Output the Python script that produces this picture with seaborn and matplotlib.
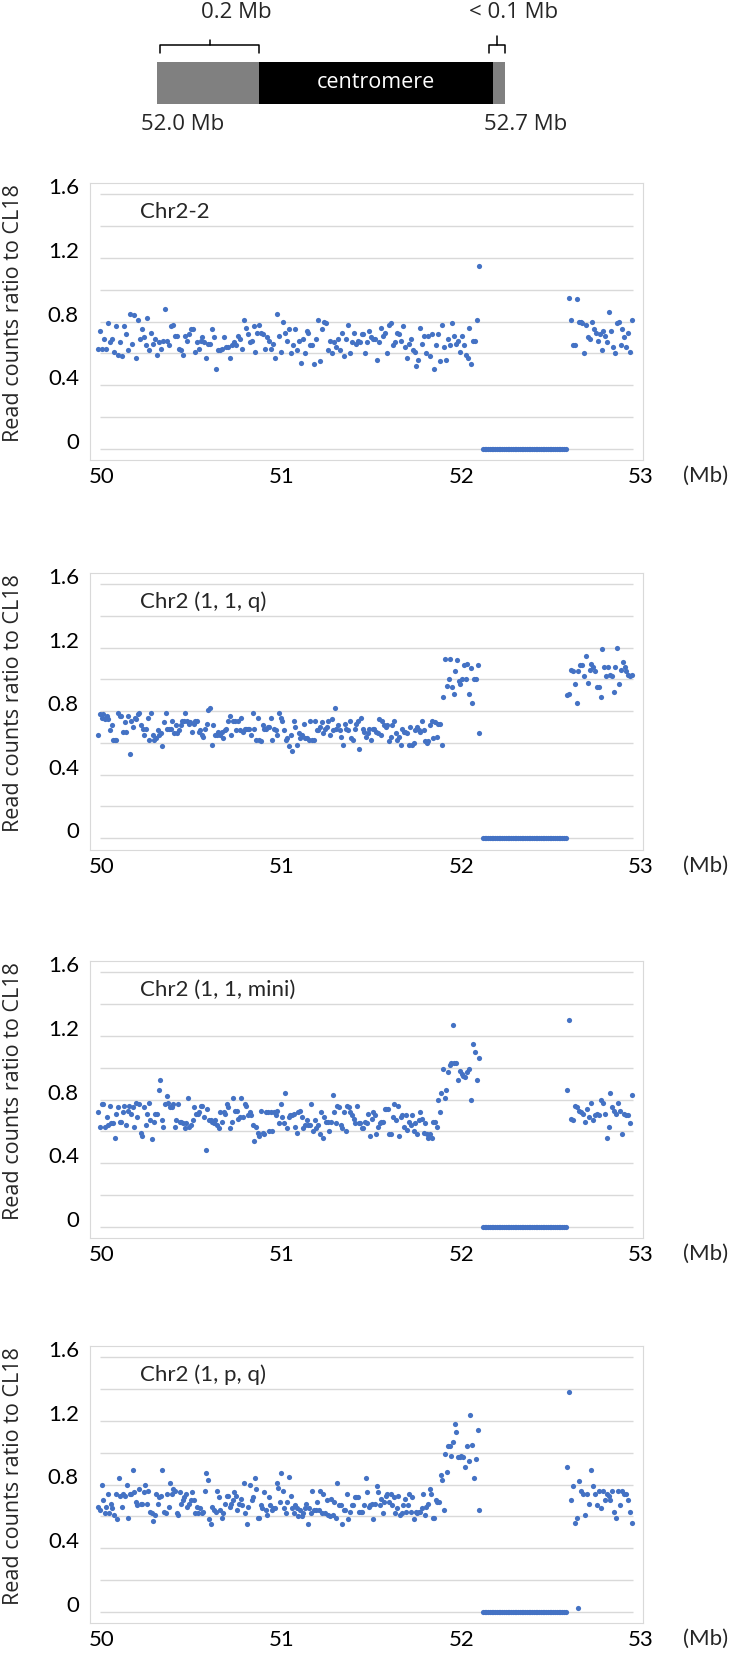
import numpy as np
import pandas as pd
import matplotlib.pyplot as plt
import seaborn as sns
from matplotlib.transforms import ScaledTranslation


# === DATA ===
panel_names = ['Chr2-2', 'Chr2 (1, 1, q)', 'Chr2 (1, 1, mini)', 'Chr2 (1, p, q)']

# Panel 1: Chr2-2
p1_arm = [0.63, 0.74, 0.63, 0.69, 0.63, 0.79, 0.67, 0.69, 0.61, 0.77, 0.59, 0.67, 0.58, 0.77, 0.72, 0.62,
          0.85, 0.66, 0.84, 0.57, 0.81, 0.69, 0.75, 0.70, 0.65, 0.82, 0.62, 0.73, 0.66, 0.69, 0.59, 0.67,
          0.63, 0.68, 0.88, 0.68, 0.65, 0.77, 0.78, 0.71, 0.71, 0.63, 0.62, 0.59, 0.71, 0.68, 0.72, 0.75,
          0.75, 0.61, 0.67, 0.63, 0.68, 0.70, 0.67, 0.57, 0.66, 0.66, 0.75, 0.70, 0.50, 0.62, 0.62, 0.63,
          0.70, 0.64, 0.64, 0.57, 0.65, 0.67, 0.65, 0.71, 0.69, 0.63, 0.81, 0.76, 0.72, 0.67, 0.68, 0.77,
          0.61, 0.73, 0.78, 0.73, 0.72, 0.63, 0.70, 0.68, 0.63, 0.66, 0.57, 0.85,
          0.71, 0.61, 0.80, 0.73, 0.68, 0.75, 0.60, 0.65, 0.75, 0.62, 0.68, 0.54, 0.69, 0.60, 0.74, 0.73,
          0.65, 0.65, 0.53, 0.69, 0.81, 0.55, 0.75, 0.80, 0.79, 0.62, 0.68, 0.60, 0.67, 0.64, 0.69, 0.62,
          0.73, 0.58, 0.69, 0.78, 0.60, 0.67, 0.73, 0.66, 0.68, 0.67, 0.72, 0.72, 0.60, 0.67, 0.74, 0.70,
          0.69, 0.69, 0.56, 0.67, 0.76, 0.71, 0.73, 0.60, 0.78, 0.79, 0.65, 0.67, 0.73, 0.72, 0.68, 0.77,
          0.64, 0.57, 0.66, 0.69, 0.62, 0.61, 0.52, 0.56, 0.76, 0.66, 0.71, 0.60, 0.71, 0.58, 0.72, 0.50,
          0.65, 0.72, 0.55, 0.78, 0.64, 0.56, 0.69, 0.65, 0.79, 0.71, 0.66, 0.68, 0.61, 0.71, 0.65, 0.59,
          0.57, 0.76, 0.53, 0.68, 0.68, 0.81, 1.15]
p1_q = [0.95, 0.81, 0.65, 0.65, 0.94, 0.80, 0.80, 0.79, 0.60, 0.78, 0.70, 0.69, 0.80, 0.75, 0.73, 0.68,
        0.72, 0.62, 0.74, 0.71, 0.67, 0.86, 0.74, 0.64, 0.60, 0.79, 0.80, 0.65, 0.75, 0.70, 0.64, 0.73,
        0.61, 0.81]

# Panel 2: Chr2 (1, 1, q)
p2_arm = [0.65, 0.78, 0.76, 0.78, 0.75, 0.77, 0.75, 0.68, 0.71, 0.62, 0.62, 0.62, 0.79, 0.77, 0.77, 0.67,
          0.73, 0.67, 0.77, 0.53, 0.74, 0.70, 0.76, 0.75, 0.78, 0.79, 0.71, 0.69, 0.65, 0.69, 0.76, 0.62,
          0.79, 0.65, 0.62, 0.63, 0.68, 0.65, 0.66, 0.58, 0.73, 0.79, 0.69, 0.69, 0.69, 0.74, 0.66, 0.71,
          0.66, 0.68, 0.71, 0.74, 0.74, 0.79, 0.74, 0.72, 0.73, 0.67, 0.72, 0.74, 0.74, 0.67, 0.68, 0.65,
          0.64, 0.69, 0.72, 0.81, 0.82, 0.59, 0.71, 0.65, 0.65, 0.67, 0.65, 0.67, 0.63, 0.68, 0.69, 0.74,
          0.77, 0.65, 0.74, 0.74, 0.68, 0.74, 0.68, 0.76, 0.67, 0.69, 0.69, 0.69, 0.69, 0.65, 0.79, 0.69,
          0.62, 0.76, 0.62, 0.61, 0.71, 0.69,
          0.69, 0.70, 0.70, 0.76, 0.62, 0.69, 0.68, 0.65, 0.79, 0.76, 0.74, 0.68, 0.62, 0.63, 0.58, 0.65,
          0.55, 0.74, 0.70, 0.59, 0.66, 0.63, 0.65, 0.72, 0.63, 0.63, 0.62, 0.74, 0.62, 0.62, 0.74, 0.68,
          0.68, 0.70, 0.73, 0.66, 0.69, 0.70, 0.74, 0.65, 0.75, 0.68, 0.82, 0.69, 0.71, 0.68, 0.64, 0.59,
          0.72, 0.69, 0.68, 0.74, 0.63, 0.62, 0.69, 0.72, 0.74, 0.56, 0.76, 0.69, 0.67, 0.64, 0.66, 0.69,
          0.62, 0.69, 0.69, 0.67, 0.66, 0.75, 0.65, 0.74, 0.71, 0.70, 0.71, 0.61, 0.64, 0.71, 0.74, 0.66,
          0.62, 0.64, 0.59, 0.69, 0.67, 0.67, 0.66, 0.59, 0.70, 0.59, 0.60, 0.68, 0.70, 0.68, 0.67, 0.74,
          0.68, 0.61, 0.60, 0.61, 0.71, 0.74, 0.63, 0.73, 0.64, 0.72, 0.72, 0.59]
p2_peri = [0.89, 1.13, 0.96, 1.00, 1.13, 0.95, 0.91, 1.05, 1.12, 0.99, 0.97, 1.00, 1.09, 1.00, 1.10, 0.91,
           1.07, 0.85, 1.00, 1.00, 1.09, 0.66]
p2_q = [0.90, 0.91, 1.06, 1.05, 0.97, 0.85, 1.05, 1.09, 1.09, 1.02, 1.15, 0.98, 1.06, 1.10, 1.08, 1.05,
        0.95, 0.95, 0.89, 1.19, 1.08, 1.02, 1.08, 1.03, 1.02, 0.92, 1.08, 1.20, 0.97, 1.06, 1.11, 1.08,
        1.05, 1.03, 1.02, 1.03]

# Panel 3: Chr2 (1, 1, mini)
p3_arm = [0.72, 0.63, 0.77, 0.77, 0.63, 0.69, 0.64, 0.76, 0.65, 0.65, 0.56, 0.71, 0.75, 0.66, 0.66, 0.72,
          0.76, 0.64, 0.73, 0.76, 0.71, 0.75, 0.63, 0.78, 0.69, 0.77, 0.59, 0.57, 0.75, 0.64, 0.71, 0.78,
          0.67, 0.55, 0.66, 0.71, 0.71, 0.86, 0.92, 0.67, 0.63, 0.77, 0.82, 0.78, 0.75, 0.75, 0.77, 0.63,
          0.67, 0.77, 0.66, 0.66, 0.65, 0.62, 0.65, 0.81, 0.63, 0.64, 0.67, 0.75, 0.71, 0.71, 0.72, 0.76,
          0.76, 0.69, 0.48, 0.74, 0.67, 0.67, 0.66, 0.65, 0.67, 0.64, 0.62, 0.72, 0.66, 0.72, 0.71, 0.77,
          0.75, 0.62, 0.66, 0.81, 0.73, 0.73, 0.68, 0.69, 0.81, 0.69, 0.77, 0.76, 0.70, 0.72, 0.70, 0.64,
          0.54, 0.63, 0.59, 0.57, 0.73,
          0.59, 0.58, 0.72, 0.72, 0.60, 0.72, 0.60, 0.72, 0.70, 0.73, 0.65, 0.77, 0.69, 0.65, 0.84, 0.62,
          0.69, 0.70, 0.70, 0.71, 0.63, 0.59, 0.72, 0.73, 0.69, 0.62, 0.64, 0.67, 0.64, 0.64, 0.77, 0.60,
          0.67, 0.62, 0.64, 0.58, 0.72, 0.56, 0.69, 0.66, 0.66, 0.60, 0.66, 0.83, 0.72, 0.65, 0.76, 0.75,
          0.64, 0.62, 0.72, 0.60, 0.76, 0.75, 0.72, 0.70, 0.68, 0.65, 0.76, 0.65, 0.65, 0.62, 0.62, 0.66,
          0.65, 0.71, 0.57, 0.68, 0.72, 0.70, 0.58, 0.63, 0.65, 0.66, 0.66, 0.74, 0.74, 0.74, 0.58, 0.58,
          0.69, 0.77, 0.67, 0.76, 0.57, 0.69, 0.70, 0.63, 0.70, 0.61, 0.66, 0.64, 0.70, 0.60, 0.65, 0.58,
          0.67, 0.72, 0.68, 0.59, 0.65, 0.58, 0.56, 0.58, 0.56, 0.66, 0.66, 0.63, 0.80, 0.72, 0.84, 0.99,
          0.81, 0.86, 0.97, 1.02, 1.03, 1.27, 1.03, 1.03, 0.92]
p3_peri = [0.98, 0.96, 0.95, 0.94, 0.97, 0.99, 0.80, 1.15, 1.10, 0.92, 1.06]
p3_q = [0.86, 1.30, 0.68, 0.67, 0.76, 0.75, 0.73, 0.72, 0.71, 0.66, 0.74, 0.69, 0.78, 0.67, 0.70, 0.71,
        0.70, 0.80, 0.78, 0.71, 0.56, 0.63, 0.84, 0.75, 0.73, 0.71, 0.78, 0.73, 0.58, 0.71, 0.70, 0.70,
        0.65, 0.83]

# Panel 4: Chr2 (1, p, q)
p4_arm = [0.66, 0.64, 0.80, 0.70, 0.62, 0.66, 0.74, 0.62, 0.68, 0.65, 0.61, 0.74, 0.58, 0.84, 0.73, 0.66,
          0.74, 0.73, 0.80, 0.59, 0.74, 0.74, 0.89, 0.75, 0.69, 0.67, 0.77, 0.68, 0.68, 0.75, 0.80, 0.68,
          0.76, 0.63, 0.62, 0.57, 0.61, 0.74, 0.68, 0.72, 0.73, 0.89, 0.63, 0.62, 0.74, 0.66, 0.81, 0.74,
          0.77, 0.76, 0.62, 0.61, 0.75, 0.68, 0.70, 0.72, 0.74, 0.66, 0.68, 0.70, 0.75, 0.70, 0.62, 0.66,
          0.62, 0.65, 0.62, 0.63, 0.76, 0.87, 0.83, 0.58, 0.55, 0.66, 0.64, 0.63, 0.76, 0.72, 0.64, 0.59,
          0.62, 0.68, 0.73, 0.73, 0.66, 0.68, 0.70, 0.75, 0.73, 0.64, 0.68, 0.71, 0.67, 0.81, 0.62, 0.55,
          0.66, 0.80, 0.70, 0.72, 0.84, 0.77, 0.59, 0.59, 0.67, 0.65, 0.75,
          0.64, 0.61, 0.72, 0.67, 0.64, 0.65, 0.65, 0.81, 0.78, 0.69, 0.87, 0.76, 0.65, 0.62, 0.69, 0.85,
          0.73, 0.65, 0.62, 0.67, 0.65, 0.60, 0.64, 0.60, 0.62, 0.65, 0.68, 0.55, 0.65, 0.62, 0.76, 0.64,
          0.64, 0.69, 0.64, 0.76, 0.62, 0.74, 0.62, 0.70, 0.61, 0.60, 0.71, 0.61, 0.69, 0.59, 0.81, 0.67,
          0.67, 0.55, 0.64, 0.64, 0.74, 0.58, 0.63, 0.67, 0.67, 0.72, 0.72, 0.72, 0.63, 0.63, 0.63, 0.67,
          0.84, 0.75, 0.66, 0.67, 0.68, 0.58, 0.68, 0.79, 0.75, 0.67, 0.71, 0.62, 0.69, 0.73, 0.74, 0.69,
          0.74, 0.67, 0.72, 0.62, 0.65, 0.73, 0.61, 0.62, 0.67, 0.71, 0.63, 0.67, 0.74, 0.63, 0.72, 0.58,
          0.63, 0.62, 0.63, 0.63, 0.65, 0.74, 0.61, 0.66, 0.68, 0.77, 0.74, 0.59, 0.59, 0.70, 0.69, 0.69,
          0.86, 0.83, 0.64, 0.99, 0.88, 1.04, 1.04, 0.98, 1.07, 1.18, 1.13, 0.97]
p4_peri = [0.97, 0.98, 0.97, 0.91, 1.04, 0.95, 1.24, 1.05, 0.84, 0.96, 1.14, 0.64]
p4_q = [0.91, 1.38, 0.70, 0.79, 0.56, 0.59, 0.82, 0.76, 0.74, 0.61, 0.74, 0.68, 0.89, 0.79, 0.74, 0.67,
        0.76, 0.65, 0.76, 0.70, 0.74, 0.73, 0.70, 0.76, 0.63, 0.59, 0.76, 0.67, 0.76, 0.74, 0.74, 0.70,
        0.63, 0.56]
p4_extra_pos = [52.65]
p4_extra = [0.02]

# centromeric bins with no reads
cen_zeros = [0.0] * 48

# segment bounds (Mb): (first bin, last bin, values)
segments = {
    'Chr2-2': [(49.98, 52.10, p1_arm), (52.12, 52.58, cen_zeros), (52.60, 52.95, p1_q)],
    'Chr2 (1, 1, q)': [(49.98, 51.89, p2_arm), (51.90, 52.10, p2_peri),
                       (52.12, 52.58, cen_zeros), (52.59, 52.95, p2_q)],
    'Chr2 (1, 1, mini)': [(49.98, 51.98, p3_arm), (51.99, 52.10, p3_peri),
                          (52.12, 52.58, cen_zeros), (52.59, 52.95, p3_q)],
    'Chr2 (1, p, q)': [(49.98, 51.98, p4_arm), (51.99, 52.10, p4_peri),
                       (52.12, 52.58, cen_zeros), (52.59, 52.95, p4_q)],
}

# schematic of the centromere region
scheme_edges = [52.0, 52.205, 52.676, 52.7]
scheme_colors = ['#808080', '#000000', '#808080']

y_ticks = [0, 0.4, 0.8, 1.2, 1.6]
y_grid = [0, 0.2, 0.4, 0.6, 0.8, 1.0, 1.2, 1.4, 1.6]
x_ticks = [50, 51, 52, 53]

# build long table
rows = []
for name, segs in segments.items():
    for start, end, vals in segs:
        for pos, v in zip(np.linspace(start, end, len(vals)), vals):
            rows.append((name, pos, v))
for pos, v in zip(p4_extra_pos, p4_extra):
    rows.append(('Chr2 (1, p, q)', pos, v))
df = pd.DataFrame(rows, columns=['sample', 'pos', 'ratio'])

# === PLOT ===
sns.set_theme(style='white')
plt.rcParams['font.family'] = ['Lato', 'DejaVu Sans']

W, H = 732, 1655
fig = plt.figure(figsize=(W / 100, H / 100), dpi=100)

blue = '#4472C4'
grid_c = '#d9d9d9'
frame_tops = [183, 572.7, 961, 1346]
frame_h = 277
left_px, right_px = 90, 643
px_per_mb = 179.67

for name, top in zip(panel_names, frame_tops):
    ax = fig.add_axes([left_px / W, (H - top - frame_h) / H, (right_px - left_px) / W, frame_h / H])
    ax.hlines(y_grid, 49.99, 52.955, color=grid_c, lw=1.0, zorder=0)
    sns.scatterplot(data=df[df['sample'] == name], x='pos', y='ratio', ax=ax,
                    color=blue, s=14, linewidth=0, legend=False, zorder=3)
    ax.set_xlim(50 - 12 / px_per_mb, 50 + (right_px - left_px - 12) / px_per_mb)
    ax.set_ylim(-0.072, 1.672)
    ax.set_xticks(x_ticks)
    ax.set_xticklabels([str(t) for t in x_ticks])
    ax.set_yticks(y_ticks)
    ax.set_yticklabels(['0', '0.4', '0.8', '1.2', '1.6'])
    ax.tick_params(axis='both', length=0, labelsize=16, colors='black')
    ax.tick_params(axis='x', pad=5)
    ax.tick_params(axis='y', pad=8)
    for lbl in ax.get_yticklabels():
        lbl.set_transform(lbl.get_transform() + ScaledTranslation(0, 8 / 100, fig.dpi_scale_trans))
    ax.set_xlabel('')
    ax.set_ylabel('Read counts ratio to CL18', fontsize=15.5, family='Open Sans')
    ax.yaxis.set_label_coords(-0.119, 0.53)
    for sp in ax.spines.values():
        sp.set_color(grid_c)
        sp.set_linewidth(0.8)
    ax.text(0.0904, 0.895, name, transform=ax.transAxes, fontsize=16, va='center', ha='left')
    ax.annotate('(Mb)', xy=(1.114, 0), xycoords='axes fraction', xytext=(0, -11.5),
                textcoords='offset points', ha='center', va='center', fontsize=16)

# --- top schematic ---
sx = fig.add_axes([0, 1 - 140 / H, 1, 140 / H])
mb_px = 348 / 0.7
sx.set_xlim(52.0 - 157 / mb_px, 52.0 + (W - 157) / mb_px)
sx.set_ylim(140, 0)
sx.axis('off')
for (a, b), c in zip(zip(scheme_edges[:-1], scheme_edges[1:]), scheme_colors):
    sx.barh(83, b - a, left=a, height=42, color=c, edgecolor='none')
sx.text((scheme_edges[1] + scheme_edges[2]) / 2, 83, 'centromere', color='white',
        ha='center', va='center', fontsize=15.5, family='Open Sans')


def brace(ax, x0, x1, xm, y_end, y_bar, y_peak):
    ax.plot([x0, x0, xm, xm], [y_end, y_bar, y_bar, y_peak], color='black', lw=1.1,
            solid_joinstyle='round')
    ax.plot([xm, x1, x1], [y_bar, y_bar, y_end], color='black', lw=1.1, solid_joinstyle='round')


brace(sx, 52.006, 52.205, 52.107, 53, 45, 40)
brace(sx, 52.668, 52.7, 52.684, 53, 45, 36)
sx.text(52.0 + (236 - 157) / mb_px, 13, '0.2 Mb', ha='center', va='center', fontsize=16,
        family='Open Sans')
sx.text(52.0 + (514 - 157) / mb_px, 13, '< 0.1 Mb', ha='center', va='center', fontsize=16,
        family='Open Sans')
sx.text(52.0 + (183 - 157) / mb_px, 124, '52.0 Mb', ha='center', va='center', fontsize=16,
        family='Open Sans')
sx.text(52.0 + (526 - 157) / mb_px, 124, '52.7 Mb', ha='center', va='center', fontsize=16,
        family='Open Sans')

fig.savefig('out.png', dpi=100)
